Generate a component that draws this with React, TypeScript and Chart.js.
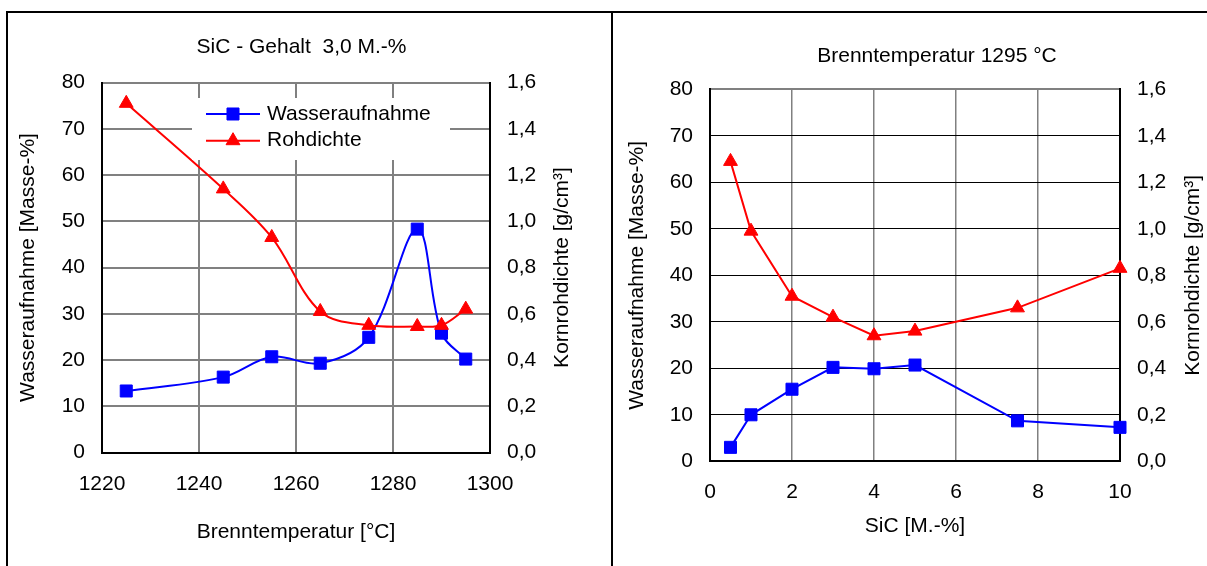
import React, { useEffect, useRef } from "react";
import { Chart, registerables } from "chart.js";

Chart.register(...registerables);

const FONT = "'Liberation Sans', Arial, Helvetica, sans-serif";
Chart.defaults.font.family = FONT;
Chart.defaults.font.size = 21;
Chart.defaults.color = "#000000";

// ---------- Data: left chart (SiC - Gehalt 3,0 M.-%) ----------
const tempCategories = [1225, 1245, 1255, 1265, 1275, 1285, 1290, 1295];
const tempWasseraufnahme = [13.3, 16.3, 20.7, 19.3, 24.9, 48.3, 25.8, 20.2];
const tempRohdichte = [1.51, 1.14, 0.93, 0.61, 0.55, 0.545, 0.55, 0.62];

// ---------- Data: right chart (Brenntemperatur 1295 °C) ----------
const sicCategories = [0.5, 1, 2, 3, 4, 5, 7.5, 10];
const sicWasseraufnahme = [3.0, 10.0, 15.5, 20.2, 19.9, 20.7, 8.7, 7.3];
const sicRohdichte = [1.29, 0.99, 0.71, 0.62, 0.54, 0.56, 0.66, 0.83];

// ---------- Tick labels ----------
const leftAxisTicks = [0, 10, 20, 30, 40, 50, 60, 70, 80];
const rightAxisTickLabels = ["0,0", "0,2", "0,4", "0,6", "0,8", "1,0", "1,2", "1,4", "1,6"];
const tempTicks = [1220, 1240, 1260, 1280, 1300];
const sicTicks = [0, 2, 4, 6, 8, 10];

const seriesNames = ["Wasseraufnahme", "Rohdichte"];

const BLUE = "#0000FF";
const RED = "#FF0000";
const BLACK = "#000000";
const GRAY = "#808080";

const fitWidth = (w: number) => (scale: any) => {
  scale.width = w;
};
const fitHeight = (h: number) => (scale: any) => {
  scale.height = h;
};

const rightLabel = (v: any) => {
  const idx = Math.round(Number(v) / 0.2);
  return rightAxisTickLabels[idx] ?? "";
};
const plainLabel = (v: any) => String(v);

const pairs = (xs: number[], ys: number[]) => xs.map((x, i) => ({ x, y: ys[i] }));

function drawMarker(ctx: CanvasRenderingContext2D, style: string, x: number, y: number, r: number, color: string) {
  ctx.save();
  ctx.fillStyle = color;
  ctx.strokeStyle = color;
  ctx.lineWidth = 1;
  ctx.beginPath();
  if (style === "rect") {
    const s = Math.SQRT1_2 * r;
    ctx.rect(x - s, y - s, 2 * s, 2 * s);
  } else {
    let rad = 0;
    ctx.moveTo(x + Math.sin(rad) * r, y - Math.cos(rad) * r);
    rad += (2 * Math.PI) / 3;
    ctx.lineTo(x + Math.sin(rad) * r, y - Math.cos(rad) * r);
    rad += (2 * Math.PI) / 3;
    ctx.lineTo(x + Math.sin(rad) * r, y - Math.cos(rad) * r);
    ctx.closePath();
  }
  ctx.fill();
  ctx.stroke();
  ctx.restore();
}

const boxLegend = {
  id: "boxLegend",
  afterDatasetsDraw(chart: any, _args: any, opts: any) {
    if (!opts || !opts.show) return;
    const ctx: CanvasRenderingContext2D = chart.ctx;
    ctx.save();
    ctx.fillStyle = "#FFFFFF";
    ctx.fillRect(opts.x, opts.y, opts.w, opts.h);
    chart.data.datasets.forEach((ds: any, i: number) => {
      const ry = opts.rows[i];
      ctx.strokeStyle = ds.borderColor;
      ctx.lineWidth = 2;
      ctx.beginPath();
      ctx.moveTo(opts.lineX0, ry);
      ctx.lineTo(opts.lineX1, ry);
      ctx.stroke();
      drawMarker(ctx, ds.pointStyle, (opts.lineX0 + opts.lineX1) / 2, ry, ds.pointRadius, ds.borderColor);
      ctx.fillStyle = BLACK;
      ctx.font = `21px ${FONT}`;
      ctx.textAlign = "left";
      ctx.textBaseline = "middle";
      ctx.fillText(ds.label, opts.textX, ry);
    });
    ctx.restore();
  },
};

const sideTitle = {
  id: "sideTitle",
  afterDraw(chart: any, _args: any, opts: any) {
    if (!opts || !opts.text) return;
    const { ctx, chartArea } = chart;
    ctx.save();
    ctx.translate(opts.x, (chartArea.top + chartArea.bottom) / 2);
    ctx.rotate(-Math.PI / 2);
    ctx.font = `21px ${FONT}`;
    ctx.fillStyle = BLACK;
    ctx.textAlign = "center";
    ctx.textBaseline = "middle";
    ctx.fillText(opts.text, 0, 0);
    ctx.restore();
  },
};

const font21 = { family: FONT, size: 21, weight: "normal" as const, lineHeight: 1.2 };

function makeDatasets(xs: number[], wa: number[], rd: number[], tension: number) {
  return [
    {
      label: seriesNames[0],
      data: pairs(xs, wa),
      yAxisID: "y",
      borderColor: BLUE,
      backgroundColor: BLUE,
      pointBackgroundColor: BLUE,
      pointBorderColor: BLUE,
      pointStyle: "rect",
      pointRadius: 8.5,
      pointBorderWidth: 1,
      borderWidth: 2,
      tension,
      clip: false,
      order: 2,
    },
    {
      label: seriesNames[1],
      data: pairs(xs, rd),
      yAxisID: "y1",
      borderColor: RED,
      backgroundColor: RED,
      pointBackgroundColor: RED,
      pointBorderColor: RED,
      pointStyle: "triangle",
      pointRadius: 8,
      pointBorderWidth: 1,
      borderWidth: 2,
      tension,
      clip: false,
      order: 1,
    },
  ];
}

function leftConfig(): any {
  return {
    type: "line",
    data: { datasets: makeDatasets(tempCategories, tempWasseraufnahme, tempRohdichte, 0.35) },
    options: {
      animation: false,
      responsive: false,
      devicePixelRatio: 1,
      events: [],
      layout: { padding: 0 },
      plugins: {
        legend: { display: false },
        tooltip: { enabled: false },
        title: {
          display: true,
          text: "SiC - Gehalt  3,0 M.-%",
          color: BLACK,
          font: font21,
          padding: { top: 35, bottom: 22.3 },
        },
        boxLegend: {
          show: true,
          x: 192,
          y: 98,
          w: 258,
          h: 62,
          rows: [114, 140.7],
          lineX0: 206,
          lineX1: 260,
          textX: 267,
        },
        sideTitle: { text: "Kornrohdichte [g/cm³]", x: 562 },
      },
      scales: {
        x: {
          type: "linear",
          position: "bottom",
          min: tempTicks[0],
          max: tempTicks[tempTicks.length - 1],
          afterBuildTicks: (s: any) => {
            s.ticks = tempTicks.map((v) => ({ value: v }));
          },
          ticks: { padding: 18.9, font: font21, color: BLACK, maxRotation: 0, autoSkip: false, callback: plainLabel },
          grid: { color: GRAY, lineWidth: 2, drawTicks: false },
          border: { color: BLACK, width: 2 },
          title: {
            display: true,
            text: "Brenntemperatur [°C]",
            font: font21,
            color: BLACK,
            padding: { top: 0, bottom: 21.5 },
          },
          afterFit: fitHeight(113.5),
        },
        y: {
          type: "linear",
          position: "left",
          min: 0,
          max: 80,
          afterBuildTicks: (s: any) => {
            s.ticks = leftAxisTicks.map((v) => ({ value: v }));
          },
          ticks: { padding: 17, font: font21, color: BLACK, callback: plainLabel },
          grid: { color: GRAY, lineWidth: 2, drawTicks: false },
          border: { color: BLACK, width: 2 },
          title: {
            display: true,
            text: "Wasseraufnahme [Masse-%]",
            font: font21,
            color: BLACK,
            padding: { top: 16, bottom: 0 },
          },
          afterFit: fitWidth(102),
        },
        y1: {
          type: "linear",
          position: "right",
          min: 0,
          max: 1.6,
          ticks: { stepSize: 0.2, padding: 17, font: font21, color: BLACK, callback: rightLabel },
          grid: { drawOnChartArea: false, drawTicks: false },
          border: { color: BLACK, width: 2 },
          afterFit: fitWidth(113),
        },
      },
    },
    plugins: [boxLegend, sideTitle],
  };
}

function rightConfig(): any {
  return {
    type: "line",
    data: { datasets: makeDatasets(sicCategories, sicWasseraufnahme, sicRohdichte, 0) },
    options: {
      animation: false,
      responsive: false,
      devicePixelRatio: 1,
      events: [],
      layout: { padding: 0 },
      plugins: {
        legend: { display: false },
        tooltip: { enabled: false },
        title: {
          display: true,
          text: "Brenntemperatur 1295 °C",
          color: BLACK,
          font: font21,
          padding: { top: 43.4, bottom: 20.7 },
        },
        boxLegend: { show: false },
        sideTitle: { text: "Kornrohdichte [g/cm³]", x: 582 },
      },
      scales: {
        x: {
          type: "linear",
          position: "bottom",
          min: sicTicks[0],
          max: sicTicks[sicTicks.length - 1],
          afterBuildTicks: (s: any) => {
            s.ticks = sicTicks.map((v) => ({ value: v }));
          },
          ticks: { padding: 18.3, font: font21, color: BLACK, maxRotation: 0, autoSkip: false, callback: plainLabel },
          grid: { color: GRAY, lineWidth: 1.5, drawTicks: false },
          border: { color: BLACK, width: 2 },
          title: {
            display: true,
            text: "SiC [M.-%]",
            font: font21,
            color: BLACK,
            padding: { top: 0, bottom: 27.4 },
          },
          afterFit: fitHeight(104.7),
        },
        y: {
          type: "linear",
          position: "left",
          min: 0,
          max: 80,
          afterBuildTicks: (s: any) => {
            s.ticks = leftAxisTicks.map((v) => ({ value: v }));
          },
          ticks: { padding: 17, font: font21, color: BLACK, callback: plainLabel },
          grid: {
            color: (c: any) => (c.tick && c.tick.value === 80 ? GRAY : BLACK),
            lineWidth: (c: any) => (c.tick && c.tick.value === 80 ? 2 : 1),
            drawTicks: false,
          },
          border: { color: BLACK, width: 2 },
          title: {
            display: true,
            text: "Wasseraufnahme [Masse-%]",
            font: font21,
            color: BLACK,
            padding: { top: 13.9, bottom: 0 },
          },
          afterFit: fitWidth(99),
        },
        y1: {
          type: "linear",
          position: "right",
          min: 0,
          max: 1.6,
          ticks: { stepSize: 0.2, padding: 17, font: font21, color: BLACK, callback: rightLabel },
          grid: { drawOnChartArea: false, drawTicks: false },
          border: { color: BLACK, width: 2 },
          afterFit: fitWidth(143),
        },
      },
    },
    plugins: [boxLegend, sideTitle],
  };
}

function ChartCanvas(props: { make: () => any; left: number; top: number; width: number; height: number }) {
  const ref = useRef<HTMLCanvasElement | null>(null);
  useEffect(() => {
    if (!ref.current) return;
    const chart = new Chart(ref.current, props.make());
    return () => chart.destroy();
  }, []);
  return (
    <canvas
      ref={ref}
      width={props.width}
      height={props.height}
      style={{ position: "absolute", left: props.left, top: props.top, width: props.width, height: props.height }}
    />
  );
}

export default function App() {
  return (
    <div
      style={{
        position: "absolute",
        left: 0,
        top: 0,
        width: 1207,
        height: 566,
        overflow: "hidden",
        background: "#FFFFFF",
      }}
    >
      <ChartCanvas make={leftConfig} left={0} top={0} width={603} height={566} />
      <ChartCanvas make={rightConfig} left={611} top={0} width={652} height={566} />
      <div style={{ position: "absolute", left: 6, top: 11, width: 1201, height: 2, background: BLACK }} />
      <div style={{ position: "absolute", left: 6, top: 11, width: 2, height: 555, background: BLACK }} />
      <div style={{ position: "absolute", left: 611, top: 11, width: 2, height: 555, background: BLACK }} />
    </div>
  );
}
